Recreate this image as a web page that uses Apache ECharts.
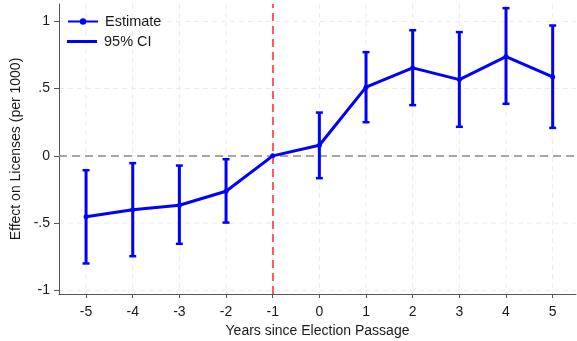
<!DOCTYPE html>
<html>
<head>
<meta charset="utf-8">
<script src="https://cdn.jsdelivr.net/npm/echarts@6/dist/echarts.min.js"></script>
<style>
  html, body { margin: 0; padding: 0; background: #fff; }
  #chart { width: 577px; height: 341px; }
</style>
</head>
<body>
<div id="chart"></div>
<script>
// Event-study estimates: years relative to election passage
const years    = [-5, -4, -3, -2, -1, 0, 1, 2, 3, 4, 5];
const estimate = [-0.453, -0.401, -0.367, -0.263, 0, 0.079, 0.511, 0.654, 0.567, 0.738, 0.587];
const ciLow    = [-0.800, -0.746, -0.654, -0.496, null, -0.166, 0.250, 0.377, 0.216, 0.387, 0.208];
const ciHigh   = [-0.107, -0.054, -0.072, -0.025, null, 0.322, 0.771, 0.934, 0.920, 1.098, 0.969];

const xTicks = [-5, -4, -3, -2, -1, 0, 1, 2, 3, 4, 5];
const yTicks = [-1, -0.5, 0, 0.5, 1];
const refYear = -1;

const FONT = '"Liberation Sans", Arial, "Helvetica", sans-serif';
const BLUE = '#0000ff';
const TEXT = '#1a1a1a';

const estData = years.map((y, i) => [y, estimate[i]]);
const ciData = years.map((y, i) => [y, ciLow[i], ciHigh[i]]).filter(d => d[1] !== null);

// Stata-style labels: ".5" / "-.5"
const fmtY = v => {
  if (v === 0) return '0';
  return String(v).replace(/^(-?)0\./, '$1.');
};

const chart = echarts.init(document.getElementById('chart'), null, { renderer: 'canvas' });

chart.setOption({
  animation: false,
  backgroundColor: '#ffffff',
  textStyle: { fontFamily: FONT },
  grid: { left: 59, right: 1, top: 4, bottom: 47, containLabel: false, outerBoundsMode: 'none' },
  xAxis: {
    type: 'value',
    min: -5.58,
    max: 5.5,
    name: 'Years since Election Passage',
    nameLocation: 'middle',
    nameGap: 28,
    nameTextStyle: { fontSize: 14, color: TEXT, fontFamily: FONT },
    axisLine: { show: true, onZero: false, lineStyle: { color: '#555', width: 1 } },
    axisTick: { show: true, length: 4, customValues: xTicks, lineStyle: { color: '#555' } },
    axisLabel: { customValues: xTicks, margin: 11, fontSize: 14, color: TEXT, fontFamily: FONT },
    splitLine: { show: false }
  },
  yAxis: {
    type: 'value',
    min: -1.027,
    max: 1.129,
    name: 'Effect on Licenses (per 1000)',
    nameLocation: 'middle',
    nameGap: 32,
    nameTextStyle: { fontSize: 14, color: TEXT, fontFamily: FONT },
    axisLine: { show: true, onZero: false, lineStyle: { color: '#555', width: 1 } },
    axisTick: { show: true, length: 5, customValues: yTicks, lineStyle: { color: '#555' } },
    axisLabel: { customValues: yTicks, margin: 9, fontSize: 14, color: TEXT, fontFamily: FONT, formatter: fmtY },
    splitLine: { show: false }
  },
  legend: [
    {
      data: ['Estimate'],
      left: 67, top: 14, padding: 0,
      itemWidth: 30, itemHeight: 8,
      textStyle: { fontSize: 14.5, color: TEXT, fontFamily: FONT, padding: [0, 0, 0, 2] }
    },
    {
      data: [{ name: '95% CI', icon: 'rect' }],
      left: 67, top: 34, padding: 0,
      itemWidth: 30, itemHeight: 3,
      textStyle: { fontSize: 14.5, color: TEXT, fontFamily: FONT, padding: [0, 0, 0, 2] }
    }
  ],
  series: [
    {
      // light dashed gridlines at every tick
      name: 'gridlines',
      type: 'custom',
      silent: true,
      z: 0,
      data: xTicks.map(v => [v, 0]).concat(yTicks.map(v => [0, v])),
      encode: { x: -1, y: -1 },
      renderItem: function (params, api) {
        const cs = params.coordSys;
        const isX = params.dataIndex < xTicks.length;
        let shape;
        if (isX) {
          const px = api.coord([xTicks[params.dataIndex], 0])[0];
          shape = { x1: px, y1: cs.y, x2: px, y2: cs.y + cs.height };
        } else {
          const py = api.coord([0, yTicks[params.dataIndex - xTicks.length]])[1];
          shape = { x1: cs.x, y1: py, x2: cs.x + cs.width, y2: py };
        }
        return {
          type: 'line',
          shape: shape,
          style: { stroke: '#ebebeb', lineWidth: 1, lineDash: [5, 4] }
        };
      }
    },
    {
      name: 'Estimate',
      type: 'line',
      z: 5,
      data: estData,
      color: BLUE,
      symbol: 'circle',
      symbolSize: 5,
      showSymbol: true,
      lineStyle: { color: BLUE, width: 3 },
      itemStyle: { color: BLUE },
      markLine: {
        silent: true,
        symbol: 'none',
        z: 1,
        label: { show: false },
        data: [
          { yAxis: 0, lineStyle: { color: '#8a8a8a', width: 1.5, type: [8, 5] } },
          { xAxis: refYear, lineStyle: { color: '#ff2a2a', width: 1.5, type: [8, 5] } }
        ]
      }
    },
    {
      name: '95% CI',
      type: 'custom',
      z: 4,
      color: BLUE,
      itemStyle: { color: BLUE },
      data: ciData,
      encode: { x: 0, y: [1, 2] },
      renderItem: function (params, api) {
        const x = api.value(0);
        const lo = api.coord([x, api.value(1)]);
        const hi = api.coord([x, api.value(2)]);
        const cap = 3.5;
        return {
          type: 'group',
          children: [
            { type: 'line', shape: { x1: lo[0], y1: lo[1], x2: hi[0], y2: hi[1] }, style: { stroke: BLUE, lineWidth: 3 } },
            { type: 'line', shape: { x1: hi[0] - cap, y1: hi[1], x2: hi[0] + cap, y2: hi[1] }, style: { stroke: BLUE, lineWidth: 2.5 } },
            { type: 'line', shape: { x1: lo[0] - cap, y1: lo[1], x2: lo[0] + cap, y2: lo[1] }, style: { stroke: BLUE, lineWidth: 2.5 } }
          ]
        };
      }
    }
  ]
});
</script>
</body>
</html>
